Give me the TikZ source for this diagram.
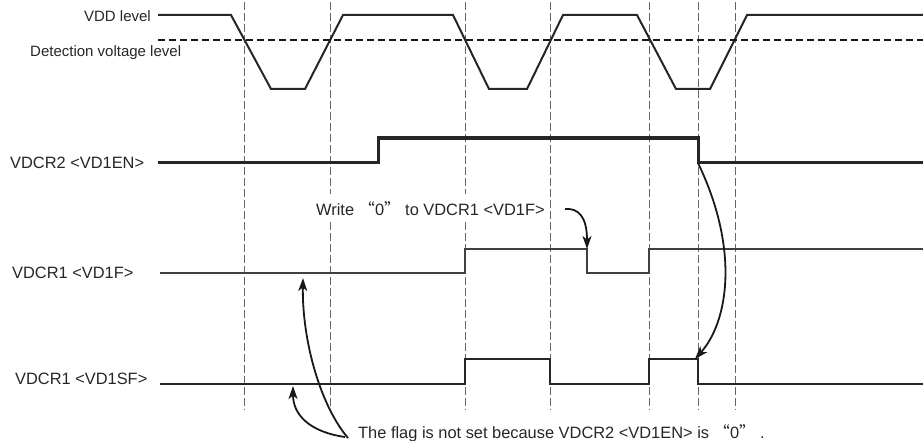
\documentclass[tikz,border=0pt]{standalone}
\usepackage{fontspec}
\setmainfont{Liberation Sans}
\newfontfamily\cjk{Noto Sans CJK SC}
\usetikzlibrary{arrows.meta}
\begin{document}
\begin{tikzpicture}[x=1pt,y=-1pt,
  gridline/.style={draw=black!60, line width=0.9pt, dash pattern=on 8pt off 3pt},
  sig/.style={draw=black!85, line width=2pt, line join=miter},
  lbl/.style={inner sep=0pt, text=black!85, font=\fontsize{16.4}{18}\selectfont},
  smalllbl/.style={inner sep=0pt, text=black!85, font=\fontsize{15}{17}\selectfont},
  arr/.style={draw=black!90, line width=1.8pt, -{Stealth[length=13pt,width=9pt,inset=3.5pt]}}]
\useasboundingbox (0,0) rectangle (923,441);
% timing grid
\foreach \x in {244,330,465,550,649,698,735} \draw[gridline] (\x,2) -- (\x,410);
% labels
\node[smalllbl, anchor=base east] (lvdd) at (151,22) {VDD level};
\node[smalllbl, anchor=base west] (ldet) at (30,57) {Detection voltage level};
\node[lbl, anchor=base west] (len) at (10,168) {VDCR2 <VD1EN>};
\node[lbl, anchor=base west] (lf) at (12,278) {VDCR1 <VD1F>};
\node[lbl, anchor=base west] (lsf) at (15,384) {VDCR1 <VD1SF>};
% VDD waveform
\draw[sig] (158,15) -- (231,15) -- (271,89) -- (305,89) -- (343,15) -- (453,15) -- (489,89) -- (527,89) -- (563,15) -- (637,15) -- (676,89) -- (710,89) -- (747,15) -- (923,15);
\draw[draw=black!90, line width=2.6pt, dash pattern=on 7pt off 4pt] (158,40) -- (923,40);
% VD1EN
\draw[sig, line width=3pt] (158,162) -- (378,162) -- (378,138) -- (698,138) -- (698,162) coordinate (enfall) -- (923,162);
% VD1F
\draw[sig, draw=black!75] (160,273) -- (465,273) -- (465,249) -- (587,249) coordinate (fclr) -- (587,273) -- (649,273) -- (649,249) -- (923,249);
% VD1SF
\draw[sig, line width=2.3pt] (160,384) -- (465,384) -- (465,359) -- (550,359) -- (550,384) -- (649,384) -- (649,359) -- (698,359) coordinate (sfend) -- (698,384) -- (923,384);
% annotations
\node[lbl, anchor=base west, fill=white, inner xsep=3pt, inner ysep=7pt] (write) at (313,215) {Write {\cjk “}0{\cjk ”} to VDCR1 <VD1F>};
\node[lbl, anchor=base west] (flag) at (358,438) {The flag is not set because VDCR2 <VD1EN> is {\cjk “}0{\cjk ”} .};
\coordinate (wstart) at (565,209);
\coordinate (fa) at (345,437);
\coordinate (fb) at (348,438);
\coordinate (ftipa) at (293,386);
\coordinate (ftipb) at (303,278);
\draw[arr] (wstart) .. controls (578,208) and (587,216) .. (fclr);
\draw[arr] ([yshift=-1pt]enfall) .. controls (740,250) and (728,322) .. ([xshift=-3pt]sfend);
\draw[arr] (fa) .. controls (310,432) and (293,415) .. (ftipa);
\draw[arr] (fb) .. controls (320,405) and (302,340) .. (ftipb);
\end{tikzpicture}
\end{document}
